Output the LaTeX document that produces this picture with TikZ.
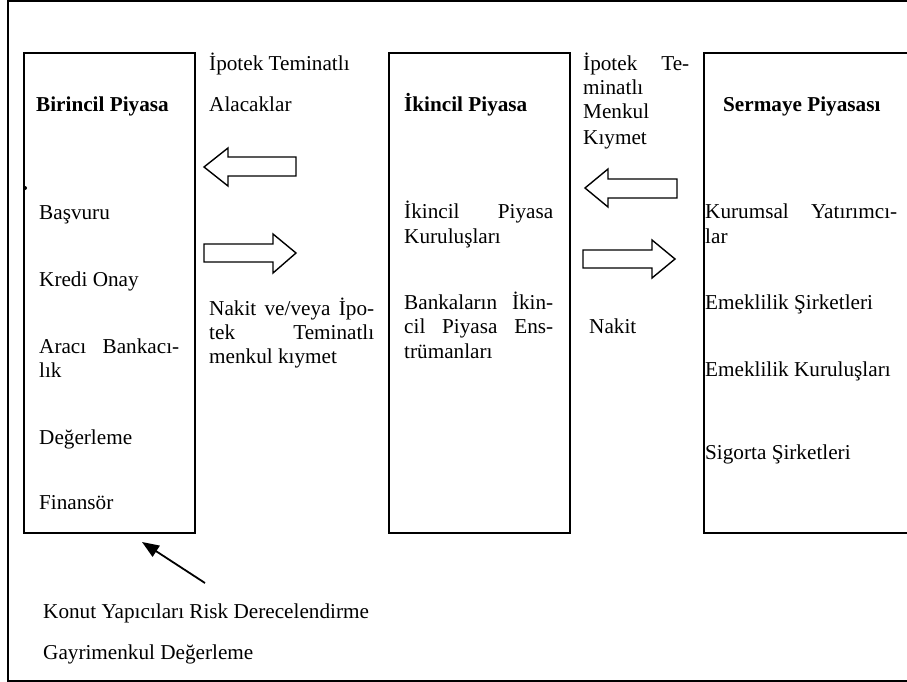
\documentclass[tikz,border=0pt]{standalone}
\usepackage{fontspec}
\setmainfont{Liberation Serif}
\usetikzlibrary{arrows.meta}
\begin{document}
\begin{tikzpicture}[x=1pt,y=-1pt,
  lbl/.style={anchor=base west, inner sep=0pt, font=\fontsize{21.2}{24.5}\selectfont},
  hd/.style={anchor=base west, inner sep=0pt, font=\fontsize{21.2}{24.5}\selectfont\bfseries},
  frameline/.style={line width=2pt},
  boxline/.style={draw, line width=2pt, anchor=north west, inner sep=0pt},
  blk/.style={line width=1.4pt, fill=white, line join=miter},
  pointer/.style={line width=1.8pt, -{Triangle[length=17pt,width=13pt]}}]
\useasboundingbox (0,0) rectangle (907,682);
\begin{scope}
\clip (0,0) rectangle (907,682);
% outer frame (right side cut off)
\draw[frameline] (920,1) -- (8,1) -- (8,681) -- (920,681);
% boxes
\node[boxline, minimum width=171pt, minimum height=480pt] (b1) at (23,52) {};
\node[boxline, minimum width=181pt, minimum height=480pt] (b2) at (388,52) {};
\node[boxline, minimum width=300pt, minimum height=480pt] (b3) at (703,52) {};
\end{scope}
\fill (25,188) circle (2pt);
% block arrows
\draw[blk] (204,167) -- (228,148) -- (228,157) -- (296,157) -- (296,176) -- (228,176) -- (228,186) -- cycle;
\draw[blk] (204,244) -- (273,244) -- (273,234) -- (296,253) -- (273,273) -- (273,262) -- (204,262) -- cycle;
\draw[blk] (585,188) -- (608,169) -- (608,179) -- (677,179) -- (677,198) -- (608,198) -- (608,207) -- cycle;
\draw[blk] (583,250) -- (652,250) -- (652,240) -- (675,259) -- (652,278) -- (652,268) -- (583,268) -- cycle;
% headings
\node[hd] (h1) at (36,112) {Birincil Piyasa};
\node[hd] (h2) at (404,112) {İkincil Piyasa};
\node[hd] (h3) at (723,112) {Sermaye Piyasası};
% box 1 items
\node[lbl] (t1) at (39,219) {Başvuru};
\node[lbl] (t2) at (39,286) {Kredi Onay};
\node[lbl] (t3) at (39,353) {\makebox[140pt][s]{Aracı Bankacı-}};
\node[lbl] (t3b) at (39,377) {lık};
\node[lbl] (t4) at (39,444) {Değerleme};
\node[lbl] (t5) at (39,509) {Finansör};
% between box 1 and 2
\node[lbl] (m1) at (209,71) {İpotek Teminatlı};
\node[lbl] (m2) at (209,112) {Alacaklar};
\node[lbl] (m3) at (209,315) {\makebox[165pt][s]{Nakit ve/veya İpo-}};
\node[lbl] (m4) at (209,339) {\makebox[165pt][s]{tek Teminatlı}};
\node[lbl] (m5) at (209,363) {menkul kıymet};
% box 2 items
\node[lbl] (s1) at (404,218) {\makebox[149pt][s]{İkincil Piyasa}};
\node[lbl] (s1b) at (404,243) {Kuruluşları};
\node[lbl] (s2) at (404,309) {\makebox[149pt][s]{Bankaların İkin-}};
\node[lbl] (s2b) at (404,333) {\makebox[149pt][s]{cil Piyasa Ens-}};
\node[lbl] (s2c) at (404,358) {trümanları};
% between box 2 and 3
\node[lbl] (n1) at (583,71) {\makebox[106pt][s]{İpotek Te-}};
\node[lbl] (n2) at (583,95) {minatlı};
\node[lbl] (n3) at (583,119) {Menkul};
\node[lbl] (n4) at (583,144) {Kıymet};
\node[lbl] (n5) at (589,333) {Nakit};
% box 3 items
\node[lbl] (c1) at (705,218) {\makebox[192pt][s]{Kurumsal Yatırımcı-}};
\node[lbl] (c1b) at (705,243) {lar};
\node[lbl] (c2) at (705,309) {Emeklilik Şirketleri};
\node[lbl] (c3) at (705,376) {Emeklilik Kuruluşları};
\node[lbl] (c4) at (705,459) {Sigorta Şirketleri};
% bottom
\node[lbl] (k1) at (43,618) {Konut Yapıcıları Risk Derecelendirme};
\node[lbl] (k2) at (43,659) {Gayrimenkul Değerleme};
\coordinate (kstart) at (205,583);
\coordinate (ktip) at (142,542);
\draw[pointer] (kstart) -- (ktip);
\end{tikzpicture}
\end{document}
